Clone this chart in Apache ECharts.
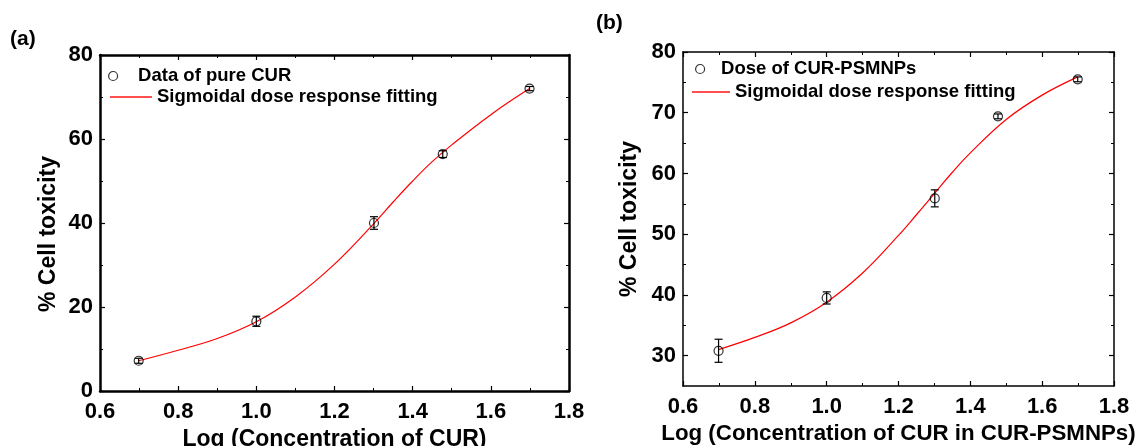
<!DOCTYPE html>
<html>
<head>
<meta charset="utf-8">
<script src="https://cdn.jsdelivr.net/npm/echarts@6/dist/echarts.min.js"></script>
<style>
  html, body { margin: 0; padding: 0; background: #fff; }
  #chart { width: 1139px; height: 446px; }
</style>
</head>
<body>
<div id="chart"></div>
<script>
// log of concentration (5, 10, 20, 30, 50)
const logConc = [0.699, 1.0, 1.301, 1.477, 1.699]

// panel (a) pure CUR
const pureCur = [7.2, 16.6, 40.0, 56.4, 72.0]
const pureCurErr = [0.6, 1.2, 1.5, 0.8, 0.5]
const pureFitX = [0.699, 0.8, 0.9, 1.0, 1.1, 1.2, 1.3, 1.35, 1.4, 1.45, 1.5, 1.6, 1.699]
const pureFitY = [7.2, 9.7, 12.5, 16.5, 22.4, 30.2, 39.8, 45.0, 50.0, 54.6, 58.6, 65.8, 72.0]

// panel (b) CUR-PSMNPs
const psmnp = [30.8, 39.5, 55.9, 69.4, 75.5]
const psmnpErr = [1.9, 1.0, 1.4, 0.4, 0.4]
const psmnpFitX = [0.699, 0.8, 0.9, 1.0, 1.1, 1.2, 1.25, 1.3, 1.35, 1.4, 1.5, 1.6, 1.699]
const psmnpFitY = [31.0, 33.0, 35.4, 38.8, 43.6, 49.8, 53.2, 56.7, 60.2, 63.4, 68.9, 72.9, 75.9]

// panel (b) y ticks (axis starts at 25)
const yTicksB = [30, 40, 50, 60, 70, 80]
const yMinorB = [35, 45, 55, 65, 75]

const FONT = 'Liberation Sans'
const chart = echarts.init(document.getElementById('chart'))

const zip = (xs, ys) => xs.map((x, i) => [x, ys[i]])
const zip3 = (xs, ys, es) => xs.map((x, i) => [x, ys[i], es[i]])

const errorBars = (xAxisIndex, yAxisIndex, data) => ({
  type: 'custom',
  xAxisIndex,
  yAxisIndex,
  data,
  z: 3,
  silent: true,
  renderItem(params, api) {
    const x = api.value(0), y = api.value(1), e = api.value(2)
    const top = api.coord([x, y + e])
    const bot = api.coord([x, y - e])
    const style = { stroke: '#000', lineWidth: 1.2 }
    return {
      type: 'group',
      children: [
        { type: 'line', shape: { x1: top[0], y1: top[1], x2: bot[0], y2: bot[1] }, style },
        { type: 'line', shape: { x1: top[0] - 4, y1: top[1], x2: top[0] + 4, y2: top[1] }, style },
        { type: 'line', shape: { x1: bot[0] - 4, y1: bot[1], x2: bot[0] + 4, y2: bot[1] }, style }
      ]
    }
  }
})

const nameStyle = { fontFamily: FONT, fontWeight: 'bold', fontSize: 23, color: '#000' }
const labelStyle = { fontFamily: FONT, fontWeight: 'bold', fontSize: 22, color: '#000' }

const makeX = (gridIndex, name, lw, gap, margin, mirror, nameSize) => ({
  gridIndex,
  type: 'value',
  min: 0.6,
  max: 1.8,
  interval: 0.2,
  position: mirror ? 'top' : 'bottom',
  name: mirror ? '' : name,
  nameLocation: 'middle',
  nameGap: gap,
  nameTextStyle: { ...nameStyle, fontSize: nameSize || 23 },
  axisLine: { show: true, onZero: false, lineStyle: { color: '#000', width: lw } },
  axisTick: { show: true, inside: true, length: 5, lineStyle: { color: '#000', width: 1.2 } },
  minorTick: { show: true, splitNumber: 2, length: 3, lineStyle: { color: '#000', width: 1 } },
  axisLabel: { show: !mirror, margin, ...labelStyle, formatter: v => v.toFixed(1) },
  splitLine: { show: false }
})

const makeY = (gridIndex, min, max, interval, lw, gap, mirror, pad) => ({
  gridIndex,
  type: 'value',
  min,
  max,
  interval,
  position: mirror ? 'right' : 'left',
  name: mirror ? '' : '% Cell toxicity',
  nameLocation: 'middle',
  nameGap: gap,
  nameTextStyle: { ...nameStyle, padding: pad || 0 },
  axisLine: { show: true, onZero: false, lineStyle: { color: '#000', width: lw } },
  axisTick: { show: true, inside: true, length: 5, lineStyle: { color: '#000', width: 1.2 } },
  minorTick: { show: true, splitNumber: 2, length: 3, lineStyle: { color: '#000', width: 1 } },
  axisLabel: { show: !mirror, margin: 7, ...labelStyle },
  splitLine: { show: false }
})

// panel (b) y axis: ticks from a custom list because the axis starts at 25
const makeYB = (ticks, len, lw, showLine, showLabel, mirror, gap) => ({
  gridIndex: 1,
  type: 'value',
  min: 25,
  max: 80,
  position: mirror ? 'right' : 'left',
  name: showLabel ? '% Cell toxicity' : '',
  nameLocation: 'middle',
  nameGap: gap || 0,
  nameTextStyle: nameStyle,
  axisLine: { show: showLine, onZero: false, lineStyle: { color: '#000', width: lw } },
  axisTick: { show: true, inside: true, length: len, customValues: ticks, lineStyle: { color: '#000', width: len > 4 ? 1.2 : 1 } },
  axisLabel: { show: showLabel, margin: 7, customValues: ticks, ...labelStyle },
  splitLine: { show: false }
})

const legendText = { fontFamily: FONT, fontWeight: 'bold', fontSize: 18.5, color: '#000', lineHeight: 20 }
const circleLegend = (name, left, top, width) => ({
  left, top, padding: 0, orient: 'vertical', itemWidth: width, itemHeight: 9, itemGap: 0,
  data: [{ name, icon: 'circle', itemStyle: { color: 'transparent', borderColor: '#000', borderWidth: 1.2 } }],
  textStyle: legendText, selectedMode: false
})
const lineLegend = (left, top, width) => ({
  left, top, padding: 0, orient: 'vertical', itemWidth: width, itemHeight: 2, itemGap: 0,
  data: [{ name: 'Sigmoidal dose response fitting', icon: 'rect', itemStyle: { color: '#ff5050', borderWidth: 0 } }],
  textStyle: legendText, selectedMode: false
})

const option = {
  backgroundColor: '#fff',
  animation: false,
  textStyle: { fontFamily: FONT },
  graphic: [
    { type: 'text', left: 10, top: 29, style: { text: '(a)', font: 'bold 21px "Liberation Sans"', fill: '#000' } },
    { type: 'text', left: 596, top: 13, style: { text: '(b)', font: 'bold 21px "Liberation Sans"', fill: '#000' } }
  ],
  legend: [
    circleLegend('Data of pure CUR', 108, 66, 40),
    lineLegend(110, 87, 42),
    circleLegend('Dose of CUR-PSMNPs', 695, 59, 32),
    lineLegend(692, 82, 38)
  ],
  grid: [
    { left: 100, top: 55, width: 469, height: 336, outerBoundsMode: 'none' },
    { left: 683, top: 52, width: 431, height: 334, outerBoundsMode: 'none' }
  ],
  xAxis: [
    makeX(0, 'Log (Concentration of CUR)', 2.5, 31, 10, false),
    makeX(0, '', 2.5, 0, 0, true),
    makeX(1, 'Log (Concentration of CUR in CUR-PSMNPs)', 1.5, 35, 10, false, 22.3),
    makeX(1, '', 1.5, 0, 0, true)
  ],
  yAxis: [
    makeY(0, 0, 80, 20, 2.5, 40, false, [0, 22, 0, 0]),
    makeY(0, 0, 80, 20, 2.5, 0, true),
    makeYB(yTicksB, 5, 1.5, true, true, false, 42),
    makeYB(yTicksB, 5, 1.5, true, false, true),
    makeYB(yMinorB, 3, 1.5, false, false, false),
    makeYB(yMinorB, 3, 1.5, false, false, true)
  ],
  series: [
    {
      name: 'Sigmoidal dose response fitting',
      type: 'line', xAxisIndex: 0, yAxisIndex: 0,
      data: zip(pureFitX, pureFitY), smooth: 0.4, showSymbol: false, z: 2,
      lineStyle: { color: '#ff0000', width: 1.2 }, itemStyle: { color: '#ff0000' }
    },
    errorBars(0, 0, zip3(logConc, pureCur, pureCurErr)),
    {
      name: 'Data of pure CUR',
      type: 'scatter', xAxisIndex: 0, yAxisIndex: 0,
      data: zip(logConc, pureCur), symbol: 'circle', symbolSize: 9, z: 4,
      itemStyle: { color: 'transparent', borderColor: '#000', borderWidth: 1.2 }
    },
    {
      name: 'Sigmoidal dose response fitting',
      type: 'line', xAxisIndex: 2, yAxisIndex: 2,
      data: zip(psmnpFitX, psmnpFitY), smooth: 0.4, showSymbol: false, z: 2,
      lineStyle: { color: '#ff0000', width: 1.2 }, itemStyle: { color: '#ff0000' }
    },
    errorBars(2, 2, zip3(logConc, psmnp, psmnpErr)),
    {
      name: 'Dose of CUR-PSMNPs',
      type: 'scatter', xAxisIndex: 2, yAxisIndex: 2,
      data: zip(logConc, psmnp), symbol: 'circle', symbolSize: 9, z: 4,
      itemStyle: { color: 'transparent', borderColor: '#000', borderWidth: 1.2 }
    }
  ]
}

chart.setOption(option)
</script>
</body>
</html>
